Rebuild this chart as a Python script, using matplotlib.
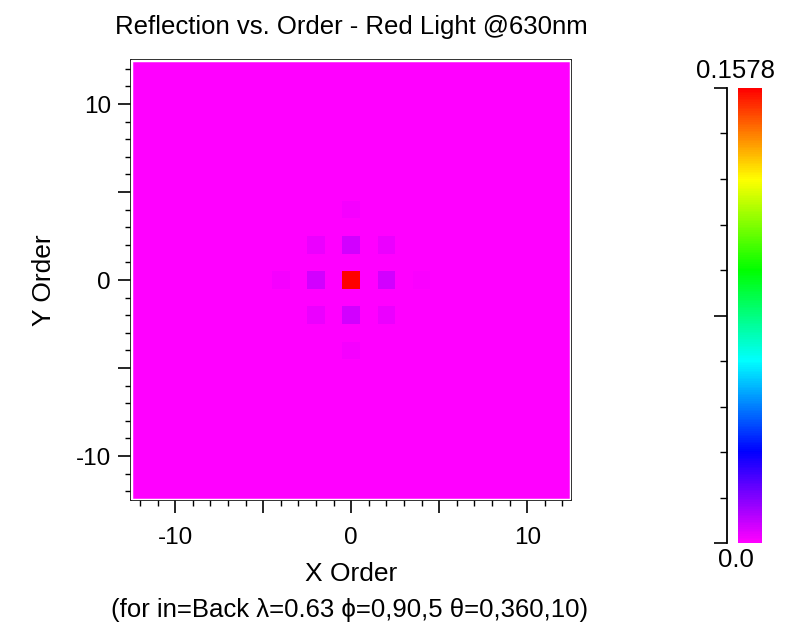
import numpy as np
import matplotlib
matplotlib.use('Agg')
import matplotlib.pyplot as plt
from matplotlib.colors import LinearSegmentedColormap
from matplotlib.ticker import FixedLocator
from matplotlib.patches import Rectangle

plt.rcParams['font.family'] = ['Liberation Sans', 'DejaVu Sans']

# diffraction orders shown on both axes
orders = np.arange(-12, 13)

# non-zero cells (x order, y order, reflection)
x_order = [0, 2, -2, 0, 0, 2, -2, 2, -2, 4, -4, 0, 0]
y_order = [0, 0, 0, 2, -2, 2, 2, -2, -2, 0, 0, 4, -4]
refl = [0.1578, 0.0058, 0.0058, 0.0058, 0.0058, 0.0028, 0.0028, 0.0028, 0.0028,
        0.0012, 0.0015, 0.0016, 0.0016]
vmax = 0.1578

title = 'Reflection vs. Order - Red Light @630nm'
subtitle = '(for in=Back \u03bb=0.63 \u03d5=0,90,5 \u03b8=0,360,10)'

Z = np.zeros((len(orders), len(orders)))
for xo, yo, r in zip(x_order, y_order, refl):
    Z[yo + 12, xo + 12] = r

cmap = LinearSegmentedColormap.from_list(
    'rainbowish',
    [(0.0, '#ff00ff'), (0.2, '#0000ff'), (0.4, '#00ffff'),
     (0.6, '#00ff00'), (0.8, '#ffff00'), (1.0, '#ff0000')])

fig = plt.figure(figsize=(8, 6.29), dpi=100)
ax = fig.add_axes([0.164, 0.205, 0.55, 0.6995])

edges = np.append(orders - 0.5, orders[-1] + 0.5)
im = ax.pcolormesh(edges, edges, Z, cmap=cmap, vmin=0, vmax=vmax)
ax.set_xlim(-12.5, 12.5)
ax.set_ylim(-12.5, 12.5)

ax.add_patch(Rectangle((0, 0), 1, 1, transform=ax.transAxes, fill=False,
                       ec='white', lw=2.5, zorder=3))
for s in ax.spines.values():
    s.set_color('#222222')
    s.set_linewidth(1.3)

for axis in (ax.xaxis, ax.yaxis):
    axis.set_major_locator(FixedLocator([-10, -5, 0, 5, 10]))
    axis.set_minor_locator(FixedLocator(np.arange(-12, 13)))
ax.set_xticklabels(['-10', '', '0', '', '10'])
ax.set_yticklabels(['-10', '', '0', '', '10'])
ax.tick_params(which='major', length=9.5, width=1.2, labelsize=17.5, pad=10,
               direction='out')
ax.tick_params(which='minor', length=4.5, width=1.0, direction='out')
ax.tick_params(axis='y', which='major', pad=5)

ax.set_title(title, fontsize=18.5, pad=19)
ax.set_xlabel('X Order', fontsize=19, labelpad=9)
ax.set_ylabel('Y Order', fontsize=19, labelpad=14)
fig.text(0.4375, 0.031, subtitle, ha='center', va='center', fontsize=18.5)

# colour bar with a separate tick line to its left
cax = fig.add_axes([0.9225, 0.1367, 0.03, 0.7234])
cb = fig.colorbar(im, cax=cax)
cb.outline.set_visible(False)
cb.set_ticks([0, vmax / 2, vmax], labels=['', '', ''])
cax.yaxis.set_ticks_position('left')
cax.yaxis.set_minor_locator(FixedLocator(np.linspace(0, vmax, 11)))
cax.spines['left'].set_visible(True)
cax.spines['left'].set_position(('outward', 8))
cax.spines['left'].set_linewidth(1.3)
cax.tick_params(which='major', length=9.5, width=1.2, direction='out')
cax.tick_params(which='minor', length=5, width=1.0, direction='out')
cax.text(-0.1, 1.012, '0.1578', transform=cax.transAxes, ha='center',
         va='bottom', fontsize=18.5)
cax.text(-0.1, -0.012, '0.0', transform=cax.transAxes, ha='center',
         va='top', fontsize=18.5)

fig.savefig('out.png', dpi=100)
